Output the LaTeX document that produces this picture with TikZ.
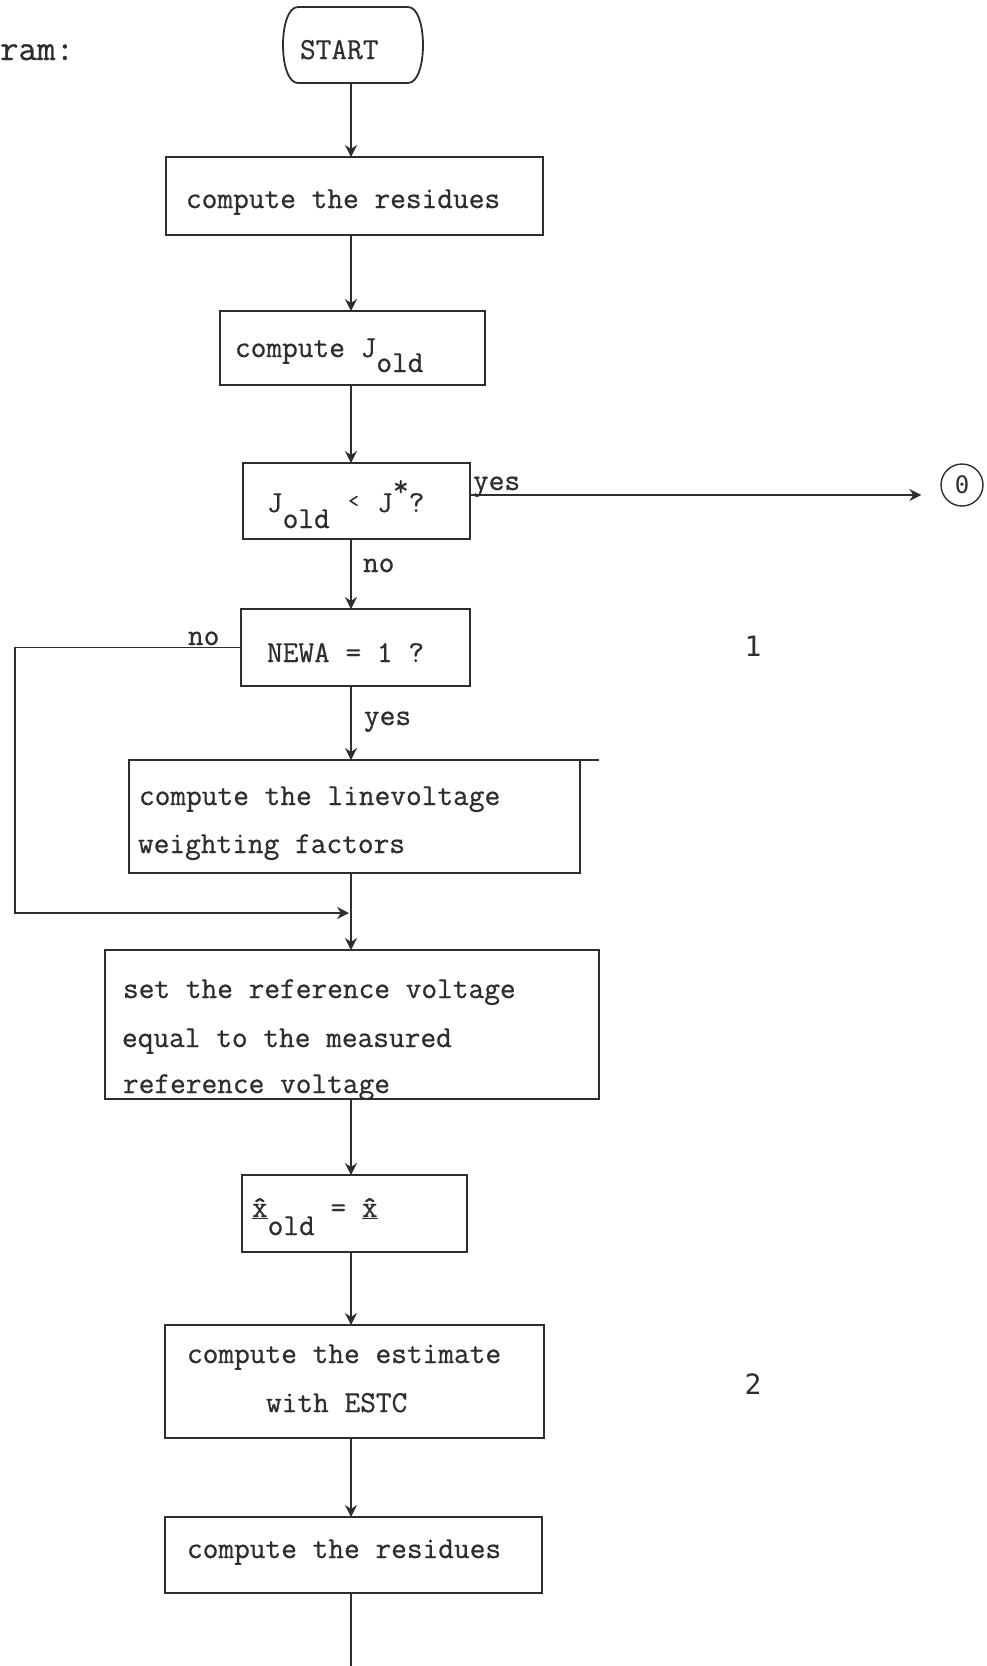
\documentclass[tikz,border=0pt]{standalone}
\usepackage{fontspec}
\usetikzlibrary{arrows.meta}
\newfontfamily\digitfont{DejaVu Sans Mono}
\newfontfamily\tw[AutoFakeBold=0.7]{Latin Modern Mono}
\definecolor{ink}{HTML}{2E2E2E}
\newcommand\mainfnt{\tw\bfseries\fontsize{30.5}{36}\selectfont}
\tikzset{
  box/.style={draw, rectangle, inner sep=0pt, outer sep=0pt},
  txt/.style={anchor=base west, inner sep=0pt, outer sep=0pt, font=\mainfnt},
  arr/.style={-{Stealth[length=12pt,width=12pt,inset=4pt]}},
  dig/.style={inner sep=0pt, font=\digitfont\fontsize{28}{28}\selectfont},
}
\begin{document}
\begin{tikzpicture}[x=1pt,y=-1pt,line width=1.8pt,color=ink]
\useasboundingbox (0,0) rectangle (986,1666);
\coordinate (axis) at (351,0);

% boxes
\node[box, draw=none, minimum width=142pt, minimum height=76pt] (start) at (353,45) {};
\draw ([xshift=16pt]start.north west) -- ([xshift=-16pt]start.north east)
  .. controls ([xshift=4pt]start.north east) and ([xshift=4pt]start.south east) .. ([xshift=-16pt]start.south east)
  -- ([xshift=16pt]start.south west)
  .. controls ([xshift=-4pt]start.south west) and ([xshift=-4pt]start.north west) .. cycle;
\node[box, minimum width=377pt, minimum height=78pt] (res1) at (354.5,196) {};
\node[box, minimum width=265pt, minimum height=74pt] (jold) at (352.5,348) {};
\node[box, minimum width=227pt, minimum height=76pt] (cmp) at (356.5,501) {};
\node[circle, draw, line width=1.4pt, minimum size=42pt, inner sep=0pt, font=\digitfont\fontsize{24}{24}\selectfont] (zero) at (962,485) {0};
\node[box, minimum width=229pt, minimum height=77pt] (newa) at (355.5,647.5) {};
\node[box, minimum width=451pt, minimum height=113pt] (lin) at (354.5,816.5) {};
\draw (lin.north east) -- ++(19,0);
\node[box, minimum width=494pt, minimum height=149pt] (set) at (352,1024.5) {};
\node[box, minimum width=225pt, minimum height=77pt] (xold) at (354.5,1213.5) {};
\node[box, minimum width=379pt, minimum height=113pt] (estc) at (354.5,1381.5) {};
\node[box, minimum width=377pt, minimum height=76pt] (res2) at (353.5,1555) {};

% texts
\node[txt, font=\tw\bfseries\fontsize{36}{36}\selectfont] (ram) at (0,60) {ram:};
\node[txt] (tstart) at (300,59) {START};
\node[txt] (tres1) at (186,208) {compute the residues};
\node[txt] (tjold) at (235,357) {compute J\raisebox{-15pt}{old}};
\node[txt] (tcmp) at (267,512) {J\raisebox{-16pt}{old} \makebox[16pt]{\raisebox{5pt}{\fontsize{20}{20}\selectfont<}} J\raisebox{16pt}{*}?};
\node[txt] (tnewa) at (267,662) {NEWA = 1 ?};
\node[txt] (tlin1) at (139,805) {compute the linevoltage};
\node[txt] (tlin2) at (138,853) {weighting factors};
\node[txt] (tset1) at (123,998) {set the reference voltage};
\node[txt] (tset2) at (122,1047) {equal to the measured};
\node[txt] (tset3) at (123,1093) {reference voltage};
\node[txt] (txold) at (252,1217) {\underline{\^{x}}\raisebox{-18pt}{old} = \underline{\^{x}}};
\node[txt] (testc1) at (187,1363) {compute the estimate};
\node[txt] (testc2) at (266,1412) {with ESTC};
\node[txt] (tres2) at (187,1558) {compute the residues};
\node[txt] (lyes1) at (473,490) {yes};
\node[txt] (lno1) at (363,572) {no};
\node[txt] (lno2) at (188,645) {no};
\node[txt] (lyes2) at (364,725) {yes};
\node[dig] (one) at (753,646) {1};
\node[dig] (two) at (753,1384) {2};

% connectors
\draw[arr] (start.south -| axis) -- (res1.north -| axis);
\draw[arr] (res1.south -| axis) -- (jold.north -| axis);
\draw[arr] (jold.south -| axis) -- (cmp.north -| axis);
\draw[arr] ([yshift=6pt]cmp.east) -- ([xshift=-19pt,yshift=-10pt]zero.west);
\draw[arr] (cmp.south -| axis) -- (newa.north -| axis);
\draw[arr] (newa.south -| axis) -- (lin.north -| axis);
\draw[arr] (lin.south -| axis) -- (set.north -| axis);
\coordinate (lc) at (15,913);
\coordinate (mg) at (349,913);
\draw[arr] (newa.west) -| (lc) -- (mg);
\draw[arr] (set.south -| axis) -- (xold.north -| axis);
\draw[arr] (xold.south -| axis) -- (estc.north -| axis);
\draw[arr] (estc.south -| axis) -- (res2.north -| axis);
\coordinate (bend) at (351,1666);
\draw (res2.south -| axis) -- (bend);
\end{tikzpicture}
\end{document}
